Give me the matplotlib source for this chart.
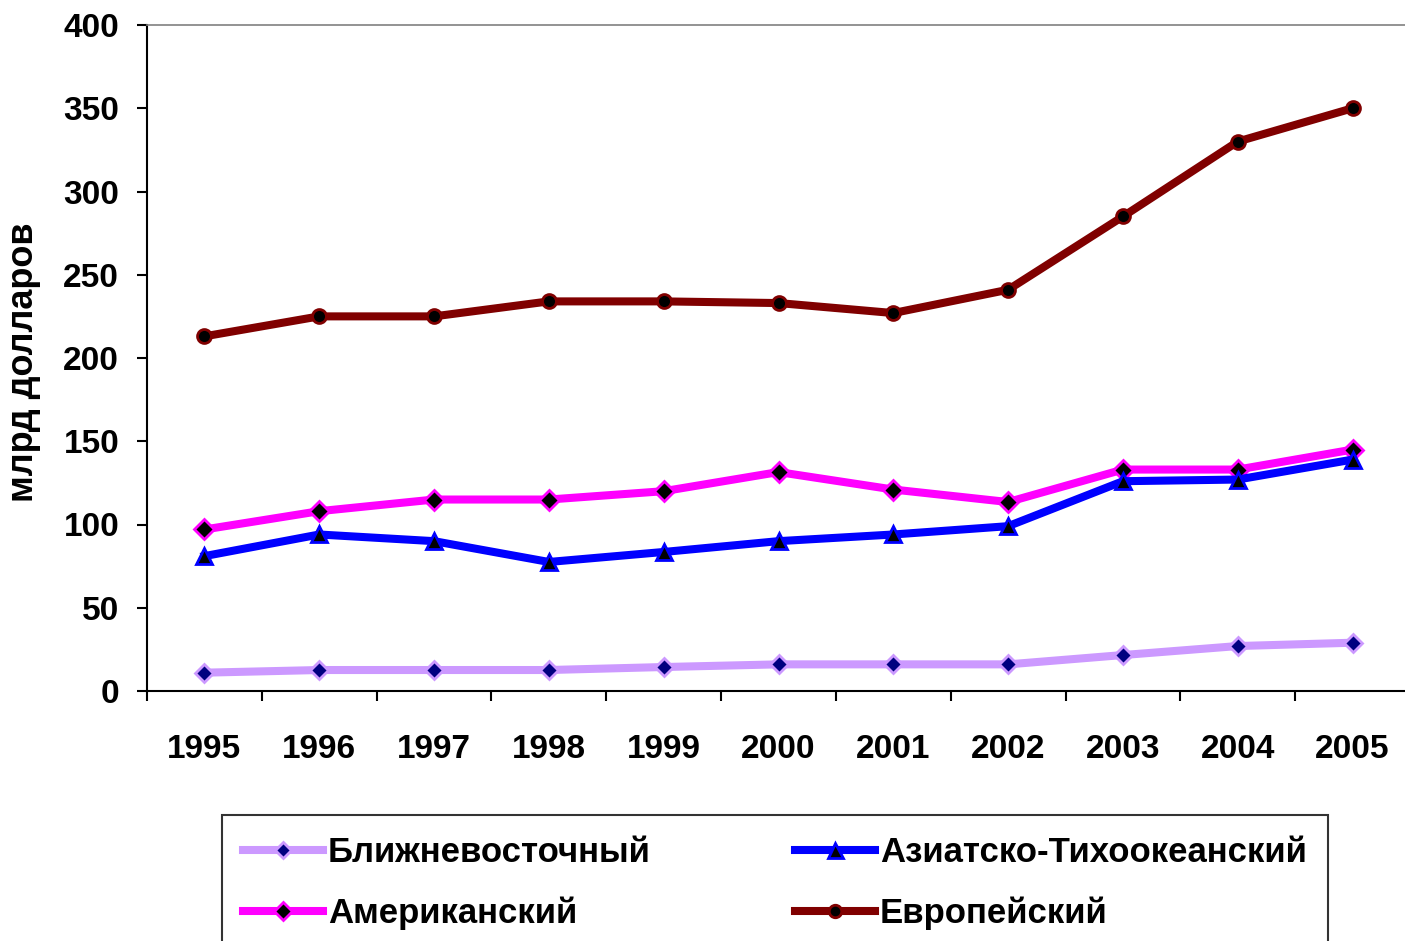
import matplotlib
matplotlib.use("Agg")
import matplotlib.pyplot as plt
import numpy as np

plt.rcParams['font.family'] = ['Liberation Sans', 'DejaVu Sans']
plt.rcParams['font.weight'] = 'bold'

years = ['1995', '1996', '1997', '1998', '1999', '2000', '2001', '2002', '2003', '2004', '2005']
middle_east = [11, 12.6, 12.6, 12.6, 14.4, 16, 16, 16, 21.6, 27, 29]
asia_pacific = [81, 94, 90, 77.5, 83.5, 90, 94, 99, 126, 127, 139]
americas = [97, 108, 115, 115, 120, 131.5, 121, 113.5, 133, 133, 145]
europe = [213, 225, 225, 234, 234, 233, 227, 241, 285, 330, 350]

labels = ['Ближневосточный', 'Азиатско-Тихоокеанский', 'Американский', 'Европейский']
ylabel = 'млрд долларов'
yticks = [0, 50, 100, 150, 200, 250, 300, 350, 400]

fig = plt.figure(figsize=(14.05, 9.41), dpi=100)
ax = fig.add_axes([147/1405, 1-691/941, (1410-147)/1405, (691-25)/941])

x = np.arange(len(years))
lw = 5.8
h1, = ax.plot(x, middle_east, color='#CC99FF', lw=lw, marker='D', ms=9,
              mfc='#000080', mec='#CC99FF', mew=2, label=labels[0], zorder=3)
h2, = ax.plot(x, asia_pacific, color='#0000FF', lw=lw, marker='^', ms=12,
              mfc='#000000', mec='#0000FF', mew=2, label=labels[1], zorder=4)
h3, = ax.plot(x, americas, color='#FF00FF', lw=lw, marker='D', ms=10,
              mfc='#000000', mec='#FF00FF', mew=2, label=labels[2], zorder=3)
h4, = ax.plot(x, europe, color='#800000', lw=lw, marker='o', ms=10,
              mfc='#000000', mec='#800000', mew=2, label=labels[3], zorder=3)

ax.set_xlim(-0.5, len(years) - 0.5)
ax.set_ylim(0, 400)
ax.set_yticks(yticks)
ax.set_yticklabels([str(v) for v in yticks])
ax.set_xticks(x)
ax.set_xticklabels(years)
ax.set_xticks(np.arange(-0.5, len(years) + 0.5, 1), minor=True)
ax.tick_params(axis='x', which='major', length=0, pad=31, labelsize=24)
ax.tick_params(axis='x', which='minor', length=7, width=1.5, direction='out', color='black')
ax.tick_params(axis='y', length=7, width=1.5, direction='out', pad=13, labelsize=24)

for s in ['left', 'bottom']:
    ax.spines[s].set_linewidth(1.5)
    ax.spines[s].set_color('black')
ax.spines['top'].set_color('#808080')
ax.spines['top'].set_linewidth(1.2)
ax.spines['right'].set_visible(False)

ax.set_ylabel(ylabel, fontsize=26, fontweight='bold')
ax.yaxis.set_label_coords(-0.084, 0.494)

leg = fig.legend([h1, h3, h2, h4], [labels[0], labels[2], labels[1], labels[3]],
                 ncol=2, loc='upper left',
                 bbox_to_anchor=(222/1405, 1-815/941), fontsize=25,
                 handlelength=2.3, handletextpad=0.15, columnspacing=4.15,
                 labelspacing=0.8, borderpad=0.6, frameon=True, fancybox=False,
                 borderaxespad=0, markerscale=0.9)
leg.get_frame().set_edgecolor('black')
leg.get_frame().set_linewidth(1.5)
for t in leg.get_texts():
    t.set_fontweight('bold')

fig.savefig('out.png', dpi=100)
